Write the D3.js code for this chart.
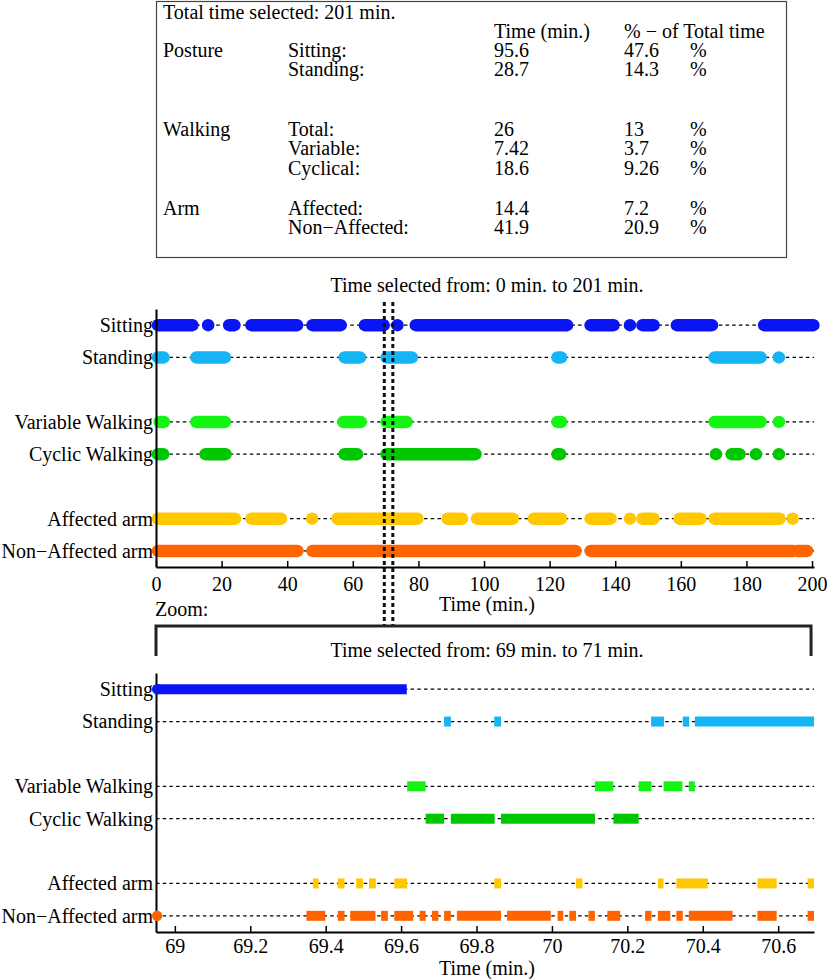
<!DOCTYPE html>
<html>
<head>
<meta charset="utf-8">
<script src="https://cdn.jsdelivr.net/npm/d3@7"></script>
<style>
  html, body { margin: 0; padding: 0; background: #fff; }
  svg text { font-family: "Liberation Serif", "Times New Roman", serif; fill: #000; }
</style>
</head>
<body>
<div id="chart"></div>
<script>
'use strict';

// ---- summary table ----
const totalSelected = 201;
const tableGroups   = ['Posture', '', 'Walking', '', '', 'Arm', ''];
const tableLabels   = ['Sitting:', 'Standing:', 'Total:', 'Variable:', 'Cyclical:', 'Affected:', 'Non\u2212Affected:'];
const tableTimes    = ['95.6', '28.7', '26', '7.42', '18.6', '14.4', '41.9'];
const tablePercents = ['47.6', '14.3', '13', '3.7', '9.26', '7.2', '20.9'];

// ---- rows (shared by both plots) ----
const rowNames  = ['Sitting', 'Standing', 'Variable Walking', 'Cyclic Walking', 'Affected arm', 'Non\u2212Affected arm'];
const rowLevels = [8, 7, 5, 4, 2, 1];
const rowColors = ['#0a14f5', '#14b4f5', '#14f514', '#00c800', '#ffc800', '#ff6400'];

// ---- overview, 0..201 min (activity intervals, min.) ----
const overviewTicks = [0, 20, 40, 60, 80, 100, 120, 140, 160, 180, 200];
const selectionMarks = [69.6, 72.2];
const sittingAll = [[0.6, 11.1], [15.9, 15.9], [22.3, 23.9], [29.1, 43.0], [47.7, 56.3], [63.7, 69.4], [73.6, 73.6],
  [79.2, 125.3], [132.5, 139.5], [144.5, 144.5], [148.3, 151.7], [158.8, 169.5], [185.4, 200.4]];
const standingAll = [[0.6, 2.3], [12.3, 21.0], [57.5, 62.2], [70.3, 78.0], [122.4, 123.5], [170.3, 184.3], [189.9, 189.9]];
const variableAll = [[1.1, 2.4], [12.3, 21.0], [57.1, 62.4], [70.3, 76.4], [122.4, 123.5], [170.3, 184.3], [189.9, 189.9]];
const cyclicAll = [[0.6, 2.2], [15.1, 21.2], [57.5, 61.3], [70.3, 97.4], [122.4, 123.2], [170.7, 170.7],
  [175.5, 177.9], [182.9, 182.9], [189.9, 189.9]];
const affectedAll = [[0.6, 24.1], [29.1, 38.1], [47.6, 47.6], [55.3, 79.7], [88.9, 93.3], [97.9, 108.8], [115.2, 123.5],
  [132.5, 138.6], [144.5, 144.5], [148.3, 151.7], [159.6, 166.0], [170.3, 190.1], [194.1, 194.1]];
const nonAffectedAll = [[0.6, 43.1], [47.7, 127.9], [132.5, 194.2], [195.4, 198.5]];

// ---- zoom, 69..71 min ----
const zoomTicks = [69, 69.2, 69.4, 69.6, 69.8, 70, 70.2, 70.4, 70.6];
const sittingZoom = [[68.95, 69.615]];
const standingZoom = [[69.714, 69.732], [69.847, 69.865], [70.263, 70.297], [70.347, 70.364], [70.379, 70.695]];
const variableZoom = [[69.616, 69.665], [70.114, 70.163], [70.230, 70.264], [70.296, 70.346], [70.363, 70.379]];
const cyclicZoom = [[69.665, 69.714], [69.732, 69.848], [69.865, 70.114], [70.163, 70.230]];
const affectedZoom = [[69.366, 69.381], [69.432, 69.450], [69.481, 69.499], [69.515, 69.533], [69.582, 69.616],
  [69.847, 69.865], [70.064, 70.081], [70.281, 70.296], [70.330, 70.413], [70.545, 70.596], [70.678, 70.695]];
const nonAffectedZoom = [[69.349, 69.399], [69.432, 69.450], [69.465, 69.532], [69.547, 69.565], [69.582, 69.632],
  [69.649, 69.665], [69.682, 69.699], [69.714, 69.732], [69.748, 69.865], [69.881, 69.997], [70.015, 70.030],
  [70.046, 70.064], [70.097, 70.114], [70.147, 70.181], [70.247, 70.264], [70.281, 70.314], [70.330, 70.347],
  [70.363, 70.479], [70.545, 70.596], [70.678, 70.695]];
const zoomStartDots = [[8, 68.953], [1, 68.953]];   // [row level, time]

const overviewData = [sittingAll, standingAll, variableAll, cyclicAll, affectedAll, nonAffectedAll];
const zoomData = [sittingZoom, standingZoom, variableZoom, cyclicZoom, affectedZoom, nonAffectedZoom];

const W = 827, H = 979;
const FS = 20;
const svg = d3.select('#chart').append('svg')
  .attr('width', W).attr('height', H)
  .attr('viewBox', `0 0 ${W} ${H}`)
  .style('font-size', FS + 'px');

// ---------- table ----------
const table = svg.append('g');
table.append('rect')
  .attr('x', 156.5).attr('y', 1.5).attr('width', 630).attr('height', 256)
  .attr('fill', 'none').attr('stroke', '#444').attr('stroke-width', 1.2);
table.append('text').attr('x', 163).attr('y', 19).text(`Total time selected: ${totalSelected} min.`);
table.append('text').attr('x', 494).attr('y', 38).text('Time (min.)');
table.append('text').attr('x', 624).attr('y', 38).text('% \u2212 of Total time');
const tableBaselines = [57, 76, 136, 155, 175, 215, 234];
tableLabels.forEach((lab, i) => {
  const y = tableBaselines[i];
  if (tableGroups[i]) table.append('text').attr('x', 163).attr('y', y).text(tableGroups[i]);
  table.append('text').attr('x', 288).attr('y', y).text(lab);
  table.append('text').attr('x', 494).attr('y', y).text(tableTimes[i]);
  table.append('text').attr('x', 624).attr('y', y).text(tablePercents[i]);
  table.append('text').attr('x', 690).attr('y', y).text('%');
});

// ---------- plot helper ----------
function drawPlot(opts) {
  const { x, y, data, ticks, fmt, tickPad, capStyle, width } = opts;
  const g = svg.append('g');
  const [x0, x1] = x.range();

  // dotted baselines
  g.selectAll('line.base').data(rowLevels).join('line')
    .attr('class', 'base')
    .attr('x1', x0).attr('x2', x1)
    .attr('y1', d => y(d)).attr('y2', d => y(d))
    .attr('stroke', '#000').attr('stroke-width', 1.3)
    .attr('stroke-dasharray', '3.5,3.2');

  // activity segments
  data.forEach((segs, i) => {
    g.append('g').selectAll('line').data(segs).join('line')
      .attr('x1', d => x(d[0])).attr('x2', d => x(d[1]))
      .attr('y1', y(rowLevels[i])).attr('y2', y(rowLevels[i]))
      .attr('stroke', rowColors[i])
      .attr('stroke-width', width)
      .attr('stroke-linecap', capStyle);
  });

  // axes
  const xAxis = d3.axisBottom(x).tickValues(ticks).tickFormat(fmt)
    .tickSizeInner(-6).tickSizeOuter(0).tickPadding(tickPad);
  const ax = g.append('g').attr('transform', `translate(0,${y.range()[0]})`).call(xAxis);
  ax.attr('font-family', null).attr('font-size', null);
  ax.select('.domain').attr('stroke', '#000').attr('stroke-width', 2);
  ax.selectAll('.tick line').attr('stroke', '#000').attr('stroke-width', 1.5);
  ax.selectAll('text').attr('fill', '#000');

  const yAxis = d3.axisLeft(y).tickValues(rowLevels)
    .tickFormat((d, i) => rowNames[i]).tickSize(0).tickPadding(3);
  const ay = g.append('g').attr('transform', `translate(${x0},0)`).call(yAxis);
  ay.attr('font-family', null).attr('font-size', null);
  ay.select('.domain').attr('stroke', '#000').attr('stroke-width', 2);
  ay.selectAll('text').attr('fill', '#000');
  return g;
}

// ---------- overview plot ----------
const xTop = d3.scaleLinear().domain([0, 200.6]).range([156, 814]);
const yTop = d3.scaleLinear().domain([0.5, 8.5]).range([567, 309]);

svg.append('text').attr('x', 487).attr('y', 292).attr('text-anchor', 'middle')
  .text(`Time selected from: 0 min. to ${totalSelected} min.`);

drawPlot({ x: xTop, y: yTop, data: overviewData, ticks: overviewTicks, fmt: d3.format('d'),
  tickPad: 10, capStyle: 'round', width: 12.5 });

svg.append('text').attr('x', 487).attr('y', 611).attr('text-anchor', 'middle').text('Time (min.)');

// selection markers (dotted verticals)
svg.append('g').selectAll('line').data(selectionMarks).join('line')
  .attr('x1', d => xTop(d)).attr('x2', d => xTop(d))
  .attr('y1', 302).attr('y2', 625)
  .attr('stroke', '#111').attr('stroke-width', 3)
  .attr('stroke-dasharray', '4,3');

// zoom bracket
svg.append('text').attr('x', 155).attr('y', 616).text('Zoom:');
svg.append('path')
  .attr('d', `M${xTop(0)},656 V626 H${xTop(200) - 1} V656`)
  .attr('fill', 'none').attr('stroke', '#222').attr('stroke-width', 3);
svg.append('text').attr('x', 487).attr('y', 657).attr('text-anchor', 'middle')
  .text('Time selected from: 69 min. to 71 min.');

// ---------- zoom plot ----------
const xBot = d3.scaleLinear().domain([68.95, 70.695]).range([156, 814]);
const yBot = d3.scaleLinear().domain([0.5, 8.5]).range([932, 673]);

const gBot = drawPlot({ x: xBot, y: yBot, data: zoomData, ticks: zoomTicks, fmt: d => String(+d.toFixed(1)),
  tickPad: 6.5, capStyle: 'butt', width: 10 });

gBot.append('g').selectAll('circle').data(zoomStartDots).join('circle')
  .attr('cx', d => xBot(d[1])).attr('cy', d => yBot(d[0])).attr('r', 5.2)
  .attr('fill', d => rowColors[rowLevels.indexOf(d[0])]);

svg.append('text').attr('x', 487).attr('y', 975).attr('text-anchor', 'middle').text('Time (min.)');
</script>
</body>
</html>
